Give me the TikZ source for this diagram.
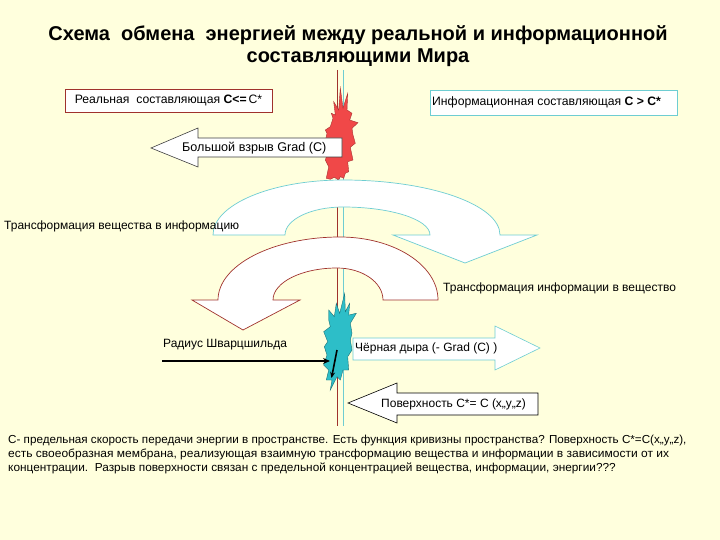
\documentclass[tikz,border=0pt]{standalone}
\usepackage{fontspec}
\setmainfont{Liberation Sans}
\usetikzlibrary{arrows.meta}

\definecolor{paper}{RGB}{255,255,221}
\definecolor{realline}{RGB}{160,50,45}
\definecolor{infoline}{RGB}{110,205,210}
\definecolor{burstred}{RGB}{240,72,72}
\definecolor{holecyan}{RGB}{45,190,200}

\tikzset{
  lbl/.style={anchor=west, inner sep=0pt, font=\fontsize{12}{14}\selectfont},
  note/.style={anchor=west, inner sep=0pt, font=\fontsize{11.6}{13}\selectfont},
  blockarrow/.style={draw=black!75, fill=white, line width=0.6pt},
  swirl/.style={fill=white, line width=0.7pt},
}

\begin{document}
\begin{tikzpicture}[x=1pt, y=-1pt]
      \useasboundingbox (0,0) rectangle (720,540);
      \fill[paper] (0,0) rectangle (720,540);

      \node[font=\fontsize{20}{22}\selectfont\bfseries, align=center] (title) at (358,46)
        {Схема\ \ обмена\ \ энергией между реальной и информационной\\составляющими Мира};

      \draw[realline, line width=0.7pt] (337,70) -- (337,426);
      \draw[infoline, line width=0.7pt] (343,70) -- (343,426);

      \node[draw=realline, fill=white, minimum width=207pt, minimum height=23pt, inner sep=0pt,
        font=\fontsize{12.2}{14}\selectfont] (real) at (168.5,100.5)
        {Реальная\ \ составляющая \textbf{С<=}\,С*};
      \node[draw=infoline, fill=white, minimum width=247pt, minimum height=25pt, inner sep=0pt,
        font=\fontsize{12}{14}\selectfont] (info) at (553.5,102.5) {};
      \node[lbl, font=\fontsize{12.2}{14}\selectfont] (infotext) at (432,102.5) {Информационная составляющая \textbf{С > С*}};

      % red burst
      \fill[burstred, draw=burstred!70!black, line width=0.4pt, xshift=-3pt]
        (329.3,178.3) -- (331.7,166.7) -- (328.3,160) -- (331,151.7) -- (327.7,143.3) -- (330,133.3)
        -- (328.3,130) -- (333.3,126.7) -- (336,118.3) -- (334.3,113.3) -- (338.3,115) -- (336.7,101.7)
        -- (341.7,110) -- (343.3,88) -- (346,108.3) -- (350.7,93.3) -- (350,110) -- (355,113.3)
        -- (352.7,120) -- (361,122.7) -- (355,128.3) -- (356,135) -- (358.3,143.3) -- (353.3,147.3)
        -- (356,160) -- (350.7,161.7) -- (351.7,171.7) -- (348.3,173.3) -- (346.7,178.3) -- (343.3,176.7)
        -- (341.7,180) -- (337.3,177.3) -- (333.3,179.3) -- cycle;

      \draw[blockarrow] (342,138) -- (198,138) -- (198,128) -- (151,148) -- (198,167)
        -- (198,157) -- (342,157) -- cycle;
      \node[lbl, font=\fontsize{12.6}{14}\selectfont] (bang) at (182,148) {Большой взрыв Grad (С)};

      \draw[swirl, draw=infoline] (213,235) arc[start angle=180, end angle=270, x radius=130, y radius=55]
        arc[start angle=270, end angle=360, x radius=157, y radius=55]
        -- (537,235) -- (465,263) -- (393,235) -- (430,235)
        arc[start angle=0, end angle=-90, x radius=87, y radius=28]
        arc[start angle=270, end angle=180, x radius=58, y radius=28] -- cycle;
      \node[lbl] (tomatter) at (4,226) {Трансформация вещества в информацию};

      \draw[swirl, draw=realline] (438,300) arc[start angle=0, end angle=-90, x radius=98, y radius=63]
        arc[start angle=270, end angle=180, x radius=122, y radius=63]
        -- (192,300) -- (243,330) -- (300,300) -- (273,300)
        arc[start angle=180, end angle=270, x radius=64, y radius=32]
        arc[start angle=270, end angle=360, x radius=46, y radius=32] -- cycle;
      \node[lbl] (toinfo) at (443,288) {Трансформация информации в вещество};

      % cyan burst
      \fill[holecyan, draw=holecyan!60!black, line width=0.4pt, xshift=-3pt]
        (331.7,310) -- (337.3,316.7) -- (339.3,303.3) -- (342.7,313.3) -- (347.7,293.3) -- (348.3,311.7)
        -- (352.7,303.3) -- (351.7,315) -- (359.3,313.3) -- (353.3,323.3) -- (355,333.3) -- (353.3,340)
        -- (355,350) -- (350.7,356.7) -- (351.7,370) -- (346,370) -- (343.3,380) -- (340,376.7)
        -- (333.3,390) -- (335,380) -- (329.3,380) -- (331.7,370) -- (326.7,365) -- (330,355)
        -- (327.3,346.7) -- (330.7,341.7) -- (326.7,331.7) -- (333.3,326.7) -- (331.7,320) -- cycle;

      \draw[blockarrow, draw=infoline] (353,338) -- (495,338) -- (495,326) -- (540,348) -- (495,370)
        -- (495,360) -- (353,360) -- cycle;
      \node[lbl] (hole) at (355,348) {Чёрная дыра (- Grad (С) )};

      \draw[blockarrow, draw=black] (538,393) -- (397,393) -- (397,383) -- (348,403) -- (397,423)
        -- (397,415) -- (538,415) -- cycle;
      \node[lbl] (surface) at (381,404) {Поверхность С*= С (х,,у,,z)};

      \node[lbl] (radius) at (163,345) {Радиус Шварцшильда};
      \coordinate (rsfrom) at (162,361);
      \coordinate (rsto) at (330,361);
      \draw[line width=1.8pt, -{Stealth[length=7pt, width=6pt]}] (rsfrom) -- (rsto);
      \coordinate (dipfrom) at (337,350);
      \coordinate (dipto) at (331.5,378);
      \draw[line width=1.6pt, -{Stealth[length=6pt, width=5pt]}] (dipfrom) -- (dipto);

      \node[note] (line1) at (8,440) {\scalebox{1.005}[1]{С- предельная скорость передачи энергии в пространстве. Есть функция кривизны пространства? Поверхность С*=С(х,,у,,z),}};
      \node[note] (line2) at (8,454) {\scalebox{1.035}[1]{есть своеобразная мембрана, реализующая взаимную трансформацию вещества и информации в зависимости от их}};
      \node[note] (line3) at (8,468) {\scalebox{1.02}[1]{концентрации.\ \ Разрыв поверхности связан с предельной концентрацией вещества, информации, энергии???}};
\end{tikzpicture}
\end{document}
